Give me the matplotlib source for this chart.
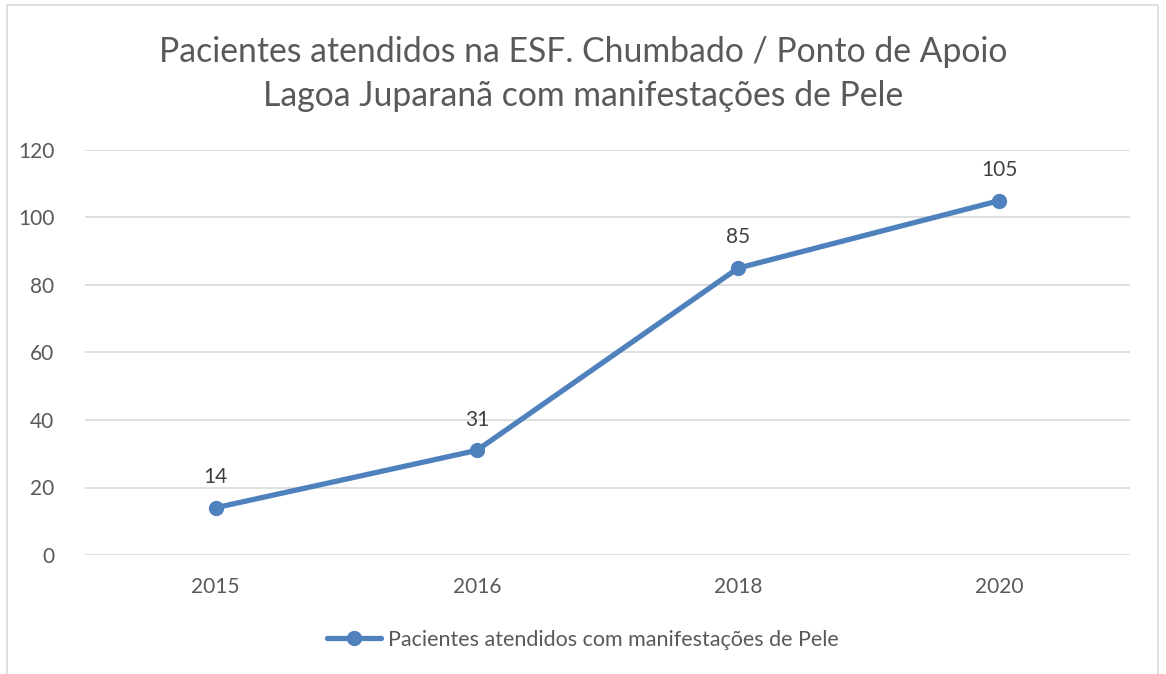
import matplotlib
matplotlib.use("Agg")
import matplotlib.pyplot as plt
from matplotlib.patches import Rectangle

plt.rcParams["font.family"] = ["Lato", "DejaVu Sans"]

years = ["2015", "2016", "2018", "2020"]
patients = [14, 31, 85, 105]
y_ticks = [0, 20, 40, 60, 80, 100, 120]

title = "Pacientes atendidos na ESF. Chumbado / Ponto de Apoio\nLagoa Juparanã com manifestações de Pele"
series_label = "Pacientes atendidos com manifestações de Pele"

line_color = "#4F81BD"
text_color = "#595959"
grid_color = "#D9D9D9"

fig = plt.figure(figsize=(11.66, 6.74), dpi=100)
ax = fig.add_axes([85 / 1166, 1 - 555 / 674, 1045 / 1166, 405 / 674])

x = list(range(len(years)))
ax.plot(x, patients, color=line_color, lw=3.8, marker="o", ms=10,
        solid_capstyle="round", label=series_label, zorder=3)

for xi, v in zip(x, patients):
    ax.annotate(str(v), (xi, v), xytext=(0, 15), textcoords="offset points",
                ha="center", va="bottom", fontsize=15, color="#404040")

ax.set_xlim(-0.5, len(years) - 0.5)
ax.set_ylim(0, 120)
ax.set_yticks(y_ticks)
ax.set_xticks(x)
ax.set_xticklabels(years)
ax.tick_params(axis="both", length=0, labelsize=15, labelcolor=text_color)
ax.tick_params(axis="x", pad=16)
ax.tick_params(axis="y", pad=22)
ax.grid(axis="y", color=grid_color, lw=1.2)
ax.set_axisbelow(True)
for s in ax.spines.values():
    s.set_visible(False)

fig.text(0.5, 1 - 74 / 674, title, ha="center", va="center", fontsize=24.3,
         color=text_color, linespacing=1.45)

leg = fig.legend(loc="center", bbox_to_anchor=(0.5, 1 - 640 / 674), frameon=False,
                 fontsize=15.5, labelcolor=text_color, handlelength=2.5,
                 handletextpad=0.3)

fig.patches.append(Rectangle((7 / 1166, -0.02), 1151 / 1166, 1.02 - 5 / 674,
                             transform=fig.transFigure, fill=False,
                             edgecolor=grid_color, lw=1.2))

fig.savefig("out.png", dpi=100, facecolor="white")
